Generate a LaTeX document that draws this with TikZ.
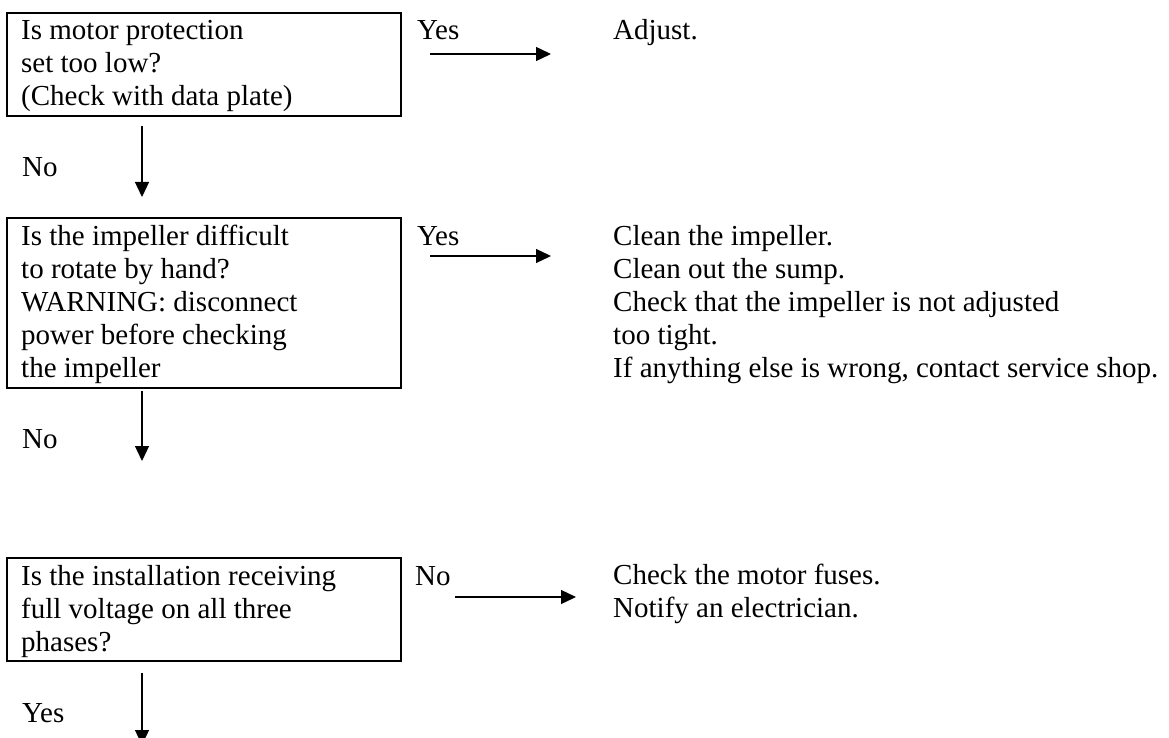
\documentclass[tikz,border=0pt]{standalone}
\usepackage{fontspec}
\setmainfont{Liberation Serif}
\usetikzlibrary{arrows.meta}

\tikzset{
  qbox/.style={draw=black, line width=1.3pt, inner sep=0pt, minimum width=394pt},
  % multi-line texts are placed by the baseline of their last line
  txt/.style={anchor=base west, inner sep=0pt, align=left,
              font=\fontsize{29}{33}\selectfont},
  flow/.style={line width=1.3pt, -{Triangle[length=15pt,width=14pt]}},
}

\begin{document}
\begin{tikzpicture}[x=1pt,y=-1pt]
  \useasboundingbox (0,0) rectangle (1169,738);

  % question boxes
  \node[qbox, minimum height=103pt] (b1) at (204,64.5) {};
  \node[qbox, minimum height=170pt] (b2) at (204,303) {};
  \node[qbox, minimum height=103pt] (b3) at (204,609.5) {};

  % question texts
  \node[txt] (q1) at (21,106) {Is motor protection\\set too low?\\(Check with data plate)};
  \node[txt] (q2) at (21,377) {Is the impeller difficult\\to rotate by hand?\\WARNING: disconnect\\power before checking\\the impeller};
  \node[txt] (q3) at (21,651) {Is the installation receiving\\full voltage on all three\\phases?};

  % side branch labels
  \node[txt] (y1) at (417,40) {Yes};
  \node[txt] (y2) at (417,245) {Yes};
  \node[txt] (n3) at (415,585) {No};

  % actions
  \node[txt] (a1) at (613,40) {Adjust.};
  \node[txt] (a2) at (613,377) {Clean the impeller.\\Clean out the sump.\\Check that the impeller is not adjusted\\too tight.\\If anything else is wrong, contact service shop.};
  \node[txt] (a3) at (613,617) {Check the motor fuses.\\Notify an electrician.};

  % downward branch labels
  \node[txt] (n1) at (22,177) {No};
  \node[txt] (n2) at (22,448) {No};
  \node[txt] (y3) at (22,722) {Yes};

  % horizontal connectors
  \coordinate (h1s) at (430,54);  \coordinate (h1e) at (551,54);
  \coordinate (h2s) at (430,256); \coordinate (h2e) at (551,256);
  \coordinate (h3s) at (455,597); \coordinate (h3e) at (576,597);
  \draw[flow] (h1s) -- (h1e);
  \draw[flow] (h2s) -- (h2e);
  \draw[flow] (h3s) -- (h3e);

  % vertical connectors
  \coordinate (d1s) at (142,126); \coordinate (d1e) at (142,197);
  \coordinate (d2s) at (142,391); \coordinate (d2e) at (142,461);
  \coordinate (d3s) at (142,673); \coordinate (d3e) at (142,745);
  \draw[flow] (d1s) -- (d1e);
  \draw[flow] (d2s) -- (d2e);
  \draw[flow] (d3s) -- (d3e);
\end{tikzpicture}
\end{document}
